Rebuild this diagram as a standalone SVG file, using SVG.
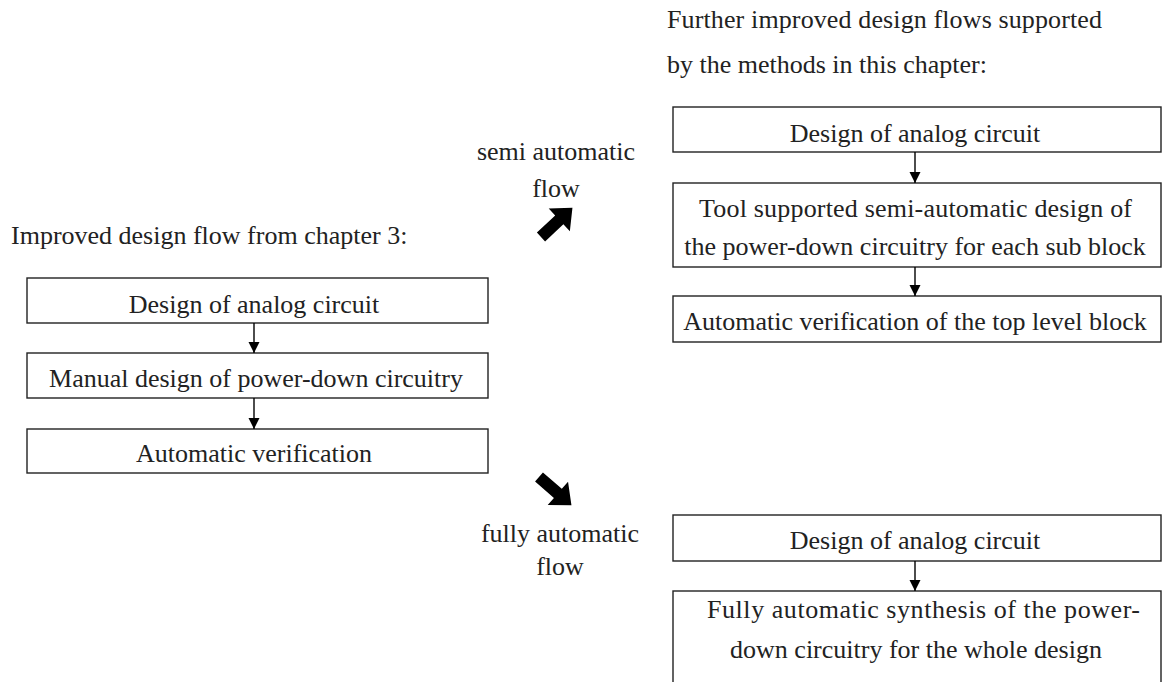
<svg xmlns="http://www.w3.org/2000/svg" width="1165" height="682" viewBox="0 0 1165 682">
<style>
  .box { fill: #fff; stroke: #222; stroke-width: 1.4; }
  .t { font-family: "Liberation Serif", "Times New Roman", serif; font-size: 26px; fill: #222; }
  .c { text-anchor: middle; }
  .edge { stroke: #000; stroke-width: 1.4; fill: none; marker-end: url(#ah); }
  .big { fill: #000; }
</style>
<defs>
  <marker id="ah" markerWidth="12" markerHeight="12" refX="11" refY="6" orient="auto" markerUnits="userSpaceOnUse">
    <path d="M0,0.5 L11,6 L0,11.5 Z" fill="#000"/>
  </marker>
  <path id="fat" d="M0,-6 L25,-6 L25,-15.5 L43,0 L25,15.5 L25,6 L0,6 Z"/>
</defs>

<text class="t" x="11" y="244">Improved design flow from chapter 3:</text>
<text class="t" x="667" y="28" textLength="435" lengthAdjust="spacing">Further improved design flows supported</text>
<text class="t" x="667" y="73">by the methods in this chapter:</text>

<g id="left1"><rect class="box" x="27" y="278" width="461" height="45"/><text class="t c" x="254" y="313">Design of analog circuit</text></g>
<g id="left2"><rect class="box" x="27" y="353" width="461" height="45"/><text class="t c" x="256" y="387">Manual design of power-down circuitry</text></g>
<g id="left3"><rect class="box" x="27" y="429" width="461" height="44"/><text class="t c" x="254" y="462">Automatic verification</text></g>

<g id="semi1"><rect class="box" x="673" y="107" width="488" height="45"/><text class="t c" x="915" y="142">Design of analog circuit</text></g>
<g id="semi2"><rect class="box" x="673" y="183" width="488" height="84"/><text class="t c" x="915.5" y="217" textLength="433" lengthAdjust="spacing">Tool supported semi-automatic design of</text><text class="t c" x="915" y="255">the power-down circuitry for each sub block</text></g>
<g id="semi3"><rect class="box" x="673" y="296" width="488" height="46"/><text class="t c" x="915" y="330">Automatic verification of the top level block</text></g>

<g id="full1"><rect class="box" x="673" y="515" width="488" height="46"/><text class="t c" x="915" y="549">Design of analog circuit</text></g>
<g id="full2"><rect class="box" x="673" y="591" width="488" height="92"/><text class="t c" x="923.5" y="618" textLength="433" lengthAdjust="spacing">Fully automatic synthesis of the power-</text><text class="t c" x="916" y="658">down circuitry for the whole design</text></g>

<g id="semi-label"><text class="t c" x="556" y="160">semi automatic</text><text class="t c" x="556" y="197">flow</text></g>
<g id="full-label"><text class="t c" x="560" y="542">fully automatic</text><text class="t c" x="560" y="575">flow</text></g>

<g id="connectors">
  <line class="edge" x1="254" y1="323" x2="254" y2="353"/>
  <line class="edge" x1="254" y1="398" x2="254" y2="429"/>
  <line class="edge" x1="915" y1="152" x2="915" y2="183"/>
  <line class="edge" x1="915" y1="267" x2="915" y2="296"/>
  <line class="edge" x1="915" y1="561" x2="915" y2="591"/>
  <use href="#fat" class="big" transform="translate(541,237) rotate(-43)"/>
  <use href="#fat" class="big" transform="translate(539,477) rotate(41)"/>
</g>
</svg>
